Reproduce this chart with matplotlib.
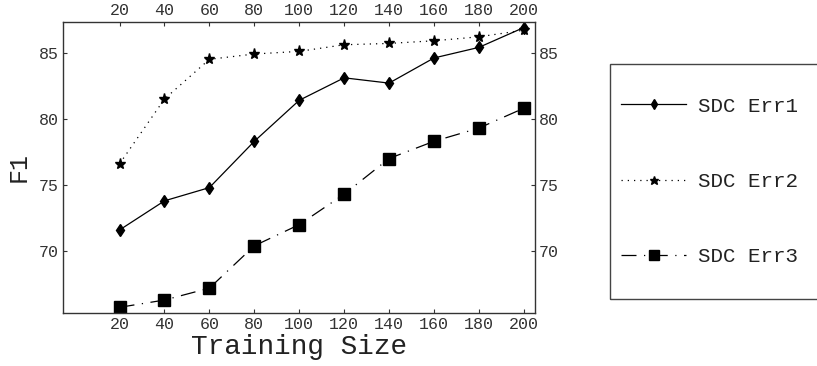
import matplotlib
matplotlib.use("Agg")
import matplotlib.pyplot as plt
from matplotlib.patches import Rectangle

# data
sizes = [20, 40, 60, 80, 100, 120, 140, 160, 180, 200]
err1 = [71.6, 73.8, 74.8, 78.3, 81.4, 83.1, 82.7, 84.6, 85.4, 86.9]
err2 = [76.6, 81.5, 84.5, 84.9, 85.1, 85.6, 85.7, 85.9, 86.2, 86.7]
err3 = [65.75, 66.3, 67.2, 70.4, 72.0, 74.3, 77.0, 78.3, 79.3, 80.8]
labels = ["SDC Err1", "SDC Err2", "SDC Err3"]
yticks = [70, 75, 80, 85]

plt.rcParams['font.family'] = ['Liberation Mono', 'DejaVu Sans Mono']

fig = plt.figure(figsize=(8.17, 3.66), dpi=100)
ax = fig.add_axes([63/817, 1 - 313/366, (535 - 63)/817, (313 - 22)/366])

l1, = ax.plot(sizes, err1, color='black', lw=0.9, marker='d', ms=6.5,
              label=labels[0])
l2, = ax.plot(sizes, err2, color='black', lw=0.9, ls=(0, (1, 4)), marker='*',
              ms=8, label=labels[1])
l3, = ax.plot(sizes, err3, color='black', lw=0.9, ls=(0, (12, 6, 1, 6)),
              marker='s', ms=8.5, label=labels[2])

ax.set_xlim(-5.2, 205)
ax.set_ylim(65.32, 87.32)
ax.set_xticks(sizes)
ax.set_yticks(yticks)
ax.tick_params(direction='in', length=3, width=0.8, top=True, right=True,
               labeltop=True, labelright=True, labelsize=12,
               labelcolor='#333333', color='#333333', pad=3)
for s in ax.spines.values():
    s.set_linewidth(1.0)
    s.set_color('#333333')

ax.set_xlabel('Training Size', fontsize=20, labelpad=1, color='#222222')
ax.set_ylabel('F1', fontsize=18, labelpad=6, color='#222222')

# legend box
fig.patches.append(Rectangle((609.5/817, 1 - 299/366), 230/817, (299 - 64)/366,
                             transform=fig.transFigure, fill=False,
                             edgecolor='#444444', lw=1.0))
fig.legend(handles=[l1, l2, l3], loc='center left',
           bbox_to_anchor=(611/817, 1 - 181.4/366), frameon=False,
           borderpad=0, fontsize=15, labelspacing=2.7, handlelength=3.1,
           handletextpad=0.6, markerscale=0.8, labelcolor='#222222')

fig.savefig('out.png', dpi=100)
